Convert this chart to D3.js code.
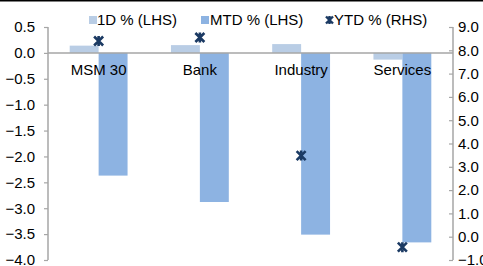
<!DOCTYPE html>
<html>
<head>
<meta charset="utf-8">
<script src="https://cdn.jsdelivr.net/npm/d3@7"></script>
<style>
  body { margin: 0; background: #fff; }
  svg { display: block; font-family: "Liberation Sans", Arial, sans-serif; }
</style>
</head>
<body>
<svg width="483" height="266"></svg>
<script>
// chart data
var categories = ["MSM 30", "Bank", "Industry", "Services"];
var oneDay = [0.14, 0.15, 0.17, -0.13];
var mtd = [-2.37, -2.88, -3.51, -3.66];
var ytd = [8.4, 8.55, 3.48, -0.45];
var leftTicks = [0.5, 0.0, -0.5, -1.0, -1.5, -2.0, -2.5, -3.0, -3.5, -4.0];
var rightTicks = [9, 8, 7, 6, 5, 4, 3, 2, 1, 0, -1];

var svg = d3.select("svg"),
    width = +svg.attr("width"),
    height = +svg.attr("height");

// plot box (window.top is reserved, so use plotTop)
var plotLeft = 48, plotRight = 453, plotTop = 27, plotBottom = 260;
var c1 = "#b9cde5", c2 = "#8db3e2", cm = "#1b3a63", axisCol = "#a6a6a6";

var x = d3.scaleBand().domain(categories).range([plotLeft, plotRight]).padding(0);
var yL = d3.scaleLinear().domain([-4, 0.5]).range([plotBottom, plotTop]);
var yR = d3.scaleLinear().domain([-1, 9]).range([plotBottom, plotTop]);
var bw = x.bandwidth() / 3.5;

// top rule
svg.append("line").attr("x1", 0).attr("x2", width).attr("y1", 0.5).attr("y2", 0.5)
  .attr("stroke", "#000").attr("stroke-width", 2);

var bars = svg.append("g");
bars.selectAll("rect.d1").data(categories).enter().append("rect")
  .attr("x", function(d) { return x(d) + x.bandwidth() / 2 - bw; })
  .attr("width", bw)
  .attr("y", function(d, i) { return yL(Math.max(0, oneDay[i])); })
  .attr("height", function(d, i) { return Math.abs(yL(oneDay[i]) - yL(0)); })
  .attr("fill", c1);
bars.selectAll("rect.mtd").data(categories).enter().append("rect")
  .attr("x", function(d) { return x(d) + x.bandwidth() / 2; })
  .attr("width", bw)
  .attr("y", function(d, i) { return yL(Math.max(0, mtd[i])); })
  .attr("height", function(d, i) { return Math.abs(yL(mtd[i]) - yL(0)); })
  .attr("fill", c2);

// zero line
svg.append("line").attr("x1", plotLeft).attr("x2", plotRight).attr("y1", yL(0)).attr("y2", yL(0))
  .attr("stroke", axisCol).attr("stroke-width", 1.5);

// left axis
var gl = svg.append("g").attr("transform", "translate(" + plotLeft + ",0)")
  .call(d3.axisLeft(yL).tickValues(leftTicks).tickSize(4).tickPadding(9).tickFormat(d3.format(".1f")));
// right axis (ticks point inward)
var gr = svg.append("g").attr("transform", "translate(" + plotRight + ",0)")
  .call(d3.axisLeft(yR).tickValues(rightTicks).tickSize(4).tickFormat(d3.format(".1f")));
gr.selectAll("text").attr("text-anchor", "start").attr("x", 5);
[gl, gr].forEach(function(g) {
  g.select(".domain").attr("stroke", axisCol).attr("stroke-width", 1.5)
    .attr("d", "M0," + plotTop + "V" + plotBottom);
  g.selectAll(".tick line").attr("stroke", axisCol).attr("stroke-width", 1.2);
  g.selectAll("text").attr("font-size", 15).attr("fill", "#000")
    .attr("font-family", "Liberation Sans, Arial, sans-serif");
});

// category labels
svg.append("g").selectAll("text").data(categories).enter().append("text")
  .attr("x", function(d) { return x(d) + x.bandwidth() / 2; })
  .attr("y", 75)
  .attr("text-anchor", "middle")
  .attr("font-size", 15)
  .text(function(d) { return d; });

// star marker (x with vertical stroke)
function star(s) {
  return "M" + (-s) + "," + (-s) + "L" + s + "," + s +
    "M" + (-s) + "," + s + "L" + s + "," + (-s) +
    "M0," + (-s - 0.5) + "L0," + (-s + 2.5) + "M0," + (s + 0.5) + "L0," + (s - 2.5);
}
svg.append("g").selectAll("path").data(categories).enter().append("path")
  .attr("transform", function(d, i) { return "translate(" + (x(d) + x.bandwidth() / 2) + "," + yR(ytd[i]) + ")"; })
  .attr("d", star(4.5))
  .attr("stroke", cm).attr("stroke-width", 2.6).attr("fill", "none");

// legend
var lg = svg.append("g").attr("font-size", 15);
lg.append("rect").attr("x", 89).attr("y", 16).attr("width", 8).attr("height", 8).attr("fill", c1);
lg.append("text").attr("x", 97).attr("y", 25).text("1D % (LHS)");
lg.append("rect").attr("x", 201).attr("y", 16).attr("width", 8).attr("height", 8).attr("fill", c2);
lg.append("text").attr("x", 210).attr("y", 25).text("MTD % (LHS)");
lg.append("path").attr("transform", "translate(329.5,20)").attr("d", star(3.5))
  .attr("stroke", cm).attr("stroke-width", 2.4).attr("fill", "none");
lg.append("text").attr("x", 334).attr("y", 25).text("YTD % (RHS)");
</script>
</body>
</html>
